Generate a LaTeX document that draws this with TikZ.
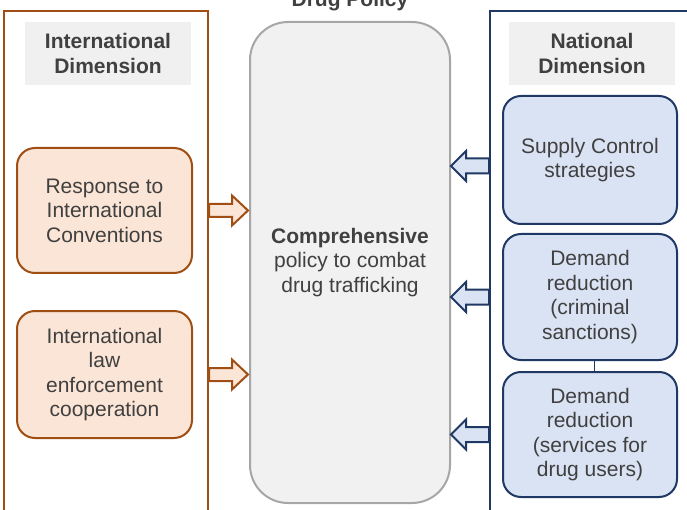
\documentclass[tikz,border=0pt]{standalone}
\usepackage{fontspec}
\setmainfont{Liberation Sans}
\definecolor{intline}{HTML}{A04F14}
\definecolor{intfill}{HTML}{FBE5D6}
\definecolor{natline}{HTML}{1F3864}
\definecolor{natfill}{HTML}{DAE3F3}
\definecolor{midfill}{HTML}{F1F1F1}
\definecolor{midline}{HTML}{A6A6A6}
\definecolor{headfill}{HTML}{F0F0F0}
\definecolor{txt}{HTML}{404040}

% block arrow pointing right, starting at #1
\newcommand\blockarrowright[1]{%
  \draw[intarrow] (#1) ++(0,-6.5) -- ++(23,0) -- ++(0,-8.5) -- ++(16,15)
    -- ++(-16,15) -- ++(0,-8.5) -- ++(-23,0) -- cycle;}
% block arrow pointing left, starting at #1
\newcommand\blockarrowleft[1]{%
  \draw[natarrow] (#1) ++(0,-7.5) -- ++(-23,0) -- ++(0,-7.5) -- ++(-15,15)
    -- ++(15,15) -- ++(0,-7.5) -- ++(23,0) -- cycle;}

\begin{document}
\begin{tikzpicture}[x=1pt,y=-1pt,
  every node/.style={text=txt, font=\fontsize{21}{24.5}\selectfont, align=center, inner sep=0pt},
  frame/.style={draw, line width=2pt, minimum height=529},
  header/.style={fill=headfill, minimum width=166, minimum height=63, font=\fontsize{21}{24.5}\selectfont\bfseries},
  intbox/.style={draw=intline, fill=intfill, line width=2pt, rounded corners=18pt, minimum width=175},
  natbox/.style={draw=natline, fill=natfill, line width=2pt, rounded corners=18pt, minimum width=174},
  midbox/.style={draw=midline, fill=midfill, line width=2pt, rounded corners=38pt, minimum width=200, minimum height=481},
  intarrow/.style={draw=intline, fill=intfill, line width=2pt, line join=miter},
  natarrow/.style={draw=natline, fill=natfill, line width=2pt, line join=miter},
  link/.style={draw=natline, line width=1.6pt}
]
\useasboundingbox (0,0) rectangle (687,510);
\clip (0,0) rectangle (687,510);

% the two dimension frames
\node[frame, draw=intline, minimum width=204] (intl) at (106,275.5) {};
\node[frame, draw=natline, minimum width=230] (natl) at (605,275.5) {};

% headers
\node[header] (inthead) at (108,53.5) {International\\Dimension};
\node[header] (nathead) at (592,53.5) {National\\Dimension};

% central policy box
\node[midbox] (policy) at (350,262.5) {\textbf{Comprehensive}\\policy to combat\\drug trafficking};
\node[anchor=base, font=\fontsize{21}{24.5}\selectfont\bfseries] (title) at (350,7) {Drug Policy};

% international measures
\node[intbox, minimum height=125] (resp) at (104.5,210.5) {Response to\\International\\Conventions};
\node[intbox, minimum height=127] (coop) at (104.5,374.5) {International\\law\\enforcement\\cooperation};

% national measures
\node[natbox, minimum height=128] (supply) at (590,160) {Supply Control\\strategies};
\node[natbox, minimum height=126] (crim) at (590,297) {Demand\\reduction\\(criminal\\sanctions)};
\node[natbox, minimum height=125] (serv) at (590,434.5) {Demand\\reduction\\(services for\\drug users)};
\draw[link] ([xshift=4.5pt]crim.south) -- ([xshift=4.5pt]serv.north);

% arrows into the policy box
\coordinate (supplyarrow) at ([yshift=-6pt]supply.center);
\blockarrowright{intl.east |- resp.center}
\blockarrowright{intl.east |- coop.center}
\blockarrowleft{natl.west |- supplyarrow}
\blockarrowleft{natl.west |- crim.center}
\blockarrowleft{natl.west |- serv.center}
\end{tikzpicture}
\end{document}
